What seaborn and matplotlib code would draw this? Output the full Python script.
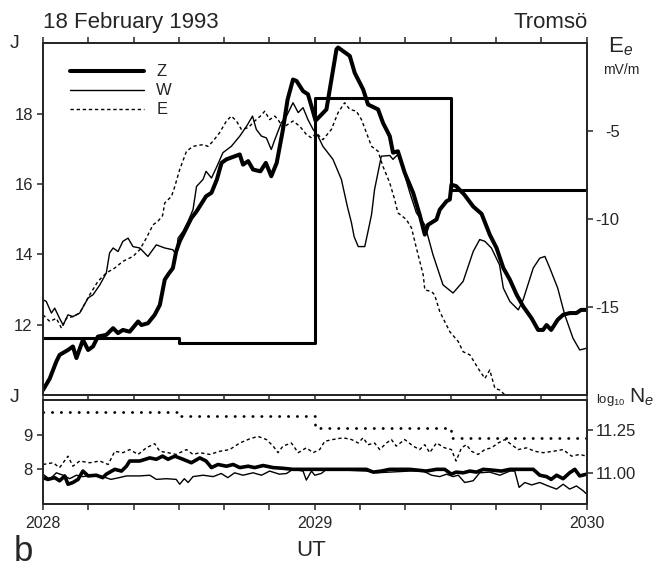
import numpy as np
import pandas as pd
import matplotlib
matplotlib.use("Agg")
import matplotlib.pyplot as plt
import seaborn as sns
from matplotlib.ticker import FixedLocator, FixedFormatter

# ---------------- data ----------------
# top panel: equivalent currents J (left axis) vs UT (20:28 - 20:30)
z_top_x = [2028.000, 2028.025, 2028.049, 2028.061, 2028.092, 2028.110, 2028.123, 2028.147, 2028.166, 2028.184,
           2028.202, 2028.233, 2028.258, 2028.276, 2028.294, 2028.319, 2028.350, 2028.362, 2028.386, 2028.411,
           2028.430, 2028.448, 2028.460, 2028.478, 2028.490, 2028.503, 2028.528, 2028.546, 2028.565, 2028.600,
           2028.620, 2028.640, 2028.657, 2028.675, 2028.724, 2028.736, 2028.755, 2028.773, 2028.800, 2028.820,
           2028.840, 2028.860, 2028.883, 2028.900, 2028.920, 2028.933, 2028.957, 2028.975, 2028.988, 2029.003,
           2029.043, 2029.080, 2029.086, 2029.129, 2029.147, 2029.178, 2029.196, 2029.233, 2029.251, 2029.276,
           2029.288, 2029.306, 2029.331, 2029.362, 2029.386, 2029.405, 2029.417, 2029.448, 2029.460, 2029.485,
           2029.497, 2029.503, 2029.520, 2029.550, 2029.583, 2029.614, 2029.644, 2029.669, 2029.694, 2029.718,
           2029.743, 2029.767, 2029.798, 2029.822, 2029.840, 2029.853, 2029.870, 2029.894, 2029.914, 2029.938,
           2029.963, 2029.980, 2030.000]
z_top_j = [10.14, 10.47, 10.95, 11.14, 11.28, 11.38, 11.05, 11.57, 11.28, 11.38,
           11.66, 11.71, 11.90, 11.76, 11.85, 11.80, 12.09, 11.99, 12.04, 12.28,
           12.56, 13.28, 13.42, 13.61, 14.08, 14.37, 14.75, 15.03, 15.22, 15.65,
           15.75, 16.13, 16.60, 16.70, 16.84, 16.55, 16.65, 16.41, 16.36, 16.60,
           16.22, 16.60, 17.55, 18.40, 18.97, 18.93, 18.64, 18.55, 18.21, 17.80,
           18.12, 19.83, 19.88, 19.64, 19.16, 18.69, 18.26, 18.12, 17.74, 17.36,
           16.89, 16.93, 16.32, 15.75, 15.13, 14.56, 14.84, 14.99, 15.27, 15.51,
           15.56, 15.98, 15.94, 15.70, 15.36, 15.15, 14.56, 14.18, 13.61, 13.28,
           12.85, 12.52, 12.18, 11.85, 11.85, 11.99, 11.85, 12.14, 12.28, 12.33,
           12.33, 12.42, 12.42]

w_top_x = [2028.000, 2028.012, 2028.031, 2028.043, 2028.061, 2028.074, 2028.092, 2028.110, 2028.135, 2028.166,
           2028.184, 2028.209, 2028.233, 2028.245, 2028.258, 2028.276, 2028.294, 2028.313, 2028.331, 2028.356,
           2028.386, 2028.417, 2028.448, 2028.478, 2028.490, 2028.497, 2028.515, 2028.534, 2028.552, 2028.565,
           2028.589, 2028.600, 2028.620, 2028.640, 2028.662, 2028.693, 2028.724, 2028.749, 2028.771, 2028.785,
           2028.804, 2028.822, 2028.840, 2028.853, 2028.877, 2028.896, 2028.920, 2028.939, 2028.957, 2028.975,
           2028.994, 2029.012, 2029.030, 2029.067, 2029.098, 2029.120, 2029.135, 2029.145, 2029.160, 2029.184,
           2029.196, 2029.209, 2029.220, 2029.245, 2029.276, 2029.288, 2029.306, 2029.325, 2029.350, 2029.374,
           2029.405, 2029.435, 2029.472, 2029.509, 2029.546, 2029.583, 2029.607, 2029.626, 2029.650, 2029.680,
           2029.694, 2029.718, 2029.749, 2029.767, 2029.804, 2029.828, 2029.847, 2029.865, 2029.894, 2029.920,
           2029.950, 2029.975, 2030.000]
w_top_j = [12.71, 12.66, 12.33, 12.47, 12.18, 11.99, 12.28, 12.23, 12.33, 12.76,
           12.85, 13.13, 13.47, 14.04, 14.18, 14.08, 14.37, 14.46, 14.22, 14.18,
           13.94, 14.27, 14.18, 14.13, 13.99, 14.46, 14.65, 14.94, 15.27, 15.93,
           16.13, 16.36, 16.17, 16.50, 16.89, 17.07, 17.36, 17.64, 17.93, 17.55,
           17.36, 17.31, 16.98, 17.26, 17.74, 17.93, 18.31, 18.03, 18.17, 17.83,
           17.55, 17.36, 17.07, 16.70, 16.13, 15.36, 14.90, 14.50, 14.22, 14.22,
           14.65, 15.13, 15.84, 16.79, 16.81, 16.70, 16.84, 16.41, 15.75, 15.18,
           14.84, 13.99, 13.13, 12.90, 13.23, 14.08, 14.42, 14.37, 14.18, 13.70,
           13.04, 12.66, 12.42, 12.71, 13.61, 13.89, 13.94, 13.61, 13.04, 12.28,
           11.62, 11.28, 11.33]

e_top_x = [2028.000, 2028.025, 2028.049, 2028.068, 2028.086, 2028.110, 2028.135, 2028.172, 2028.202, 2028.233,
           2028.264, 2028.294, 2028.331, 2028.356, 2028.380, 2028.405, 2028.423, 2028.440, 2028.448, 2028.473,
           2028.485, 2028.503, 2028.528, 2028.552, 2028.589, 2028.607, 2028.626, 2028.650, 2028.675, 2028.693,
           2028.712, 2028.730, 2028.755, 2028.779, 2028.800, 2028.816, 2028.834, 2028.853, 2028.865, 2028.883,
           2028.900, 2028.920, 2028.945, 2028.969, 2028.988, 2029.006, 2029.030, 2029.061, 2029.086, 2029.110,
           2029.129, 2029.153, 2029.172, 2029.209, 2029.233, 2029.251, 2029.276, 2029.294, 2029.306, 2029.337,
           2029.356, 2029.374, 2029.399, 2029.405, 2029.430, 2029.441, 2029.460, 2029.497, 2029.528, 2029.546,
           2029.571, 2029.601, 2029.626, 2029.644, 2029.663, 2029.681, 2029.700, 2029.720]
e_top_j = [12.28, 12.09, 12.18, 11.90, 12.18, 12.23, 12.33, 12.85, 13.23, 13.47,
           13.61, 13.80, 13.94, 14.13, 14.46, 14.84, 14.94, 15.10, 15.46, 15.65,
           15.93, 16.41, 16.93, 17.07, 17.12, 17.07, 17.22, 17.46, 17.79, 17.93,
           17.79, 17.55, 17.60, 17.79, 17.93, 18.07, 17.83, 17.93, 17.83, 17.60,
           17.69, 17.79, 17.64, 17.41, 17.31, 17.45, 17.26, 17.55, 18.03, 18.31,
           18.12, 18.07, 17.83, 17.07, 16.93, 16.50, 16.03, 15.56, 15.18, 14.99,
           14.75, 14.18, 13.42, 12.99, 12.94, 12.85, 12.37, 11.80, 11.52, 11.23,
           11.14, 10.76, 10.47, 10.71, 10.19, 10.14, 10.00, 9.80]

# EISCAT electric field E_e (mV/m), 30 s steps
ee_x = [2028.0, 2028.5, 2029.0, 2029.5, 2030.0]
ee_val = [-16.78, -17.06, -3.13, -8.34, -8.34]

# bottom panel: J (left axis) and log10 Ne (right axis)
e_bot_x = [2028.000, 2028.037, 2028.061, 2028.092, 2028.110, 2028.135, 2028.172, 2028.209, 2028.240, 2028.264,
           2028.294, 2028.319, 2028.350, 2028.380, 2028.411, 2028.430, 2028.460, 2028.490, 2028.528, 2028.552,
           2028.577, 2028.614, 2028.650, 2028.687, 2028.724, 2028.761, 2028.791, 2028.822, 2028.847, 2028.865,
           2028.883, 2028.914, 2028.939, 2028.969, 2028.994, 2029.018, 2029.037, 2029.067, 2029.104, 2029.135,
           2029.160, 2029.178, 2029.196, 2029.220, 2029.239, 2029.264, 2029.282, 2029.300, 2029.331, 2029.362,
           2029.386, 2029.405, 2029.423, 2029.448, 2029.478, 2029.503, 2029.520, 2029.540, 2029.558, 2029.577,
           2029.601, 2029.626, 2029.650, 2029.675, 2029.700, 2029.724, 2029.749, 2029.779, 2029.810, 2029.840,
           2029.877, 2029.914, 2029.945, 2029.975, 2030.000]
e_bot_j = [8.14, 8.19, 8.05, 8.38, 8.09, 8.24, 8.19, 8.24, 8.14, 8.52,
           8.48, 8.57, 8.43, 8.62, 8.74, 8.52, 8.48, 8.43, 8.57, 8.43,
           8.48, 8.43, 8.52, 8.57, 8.76, 8.88, 8.95, 8.86, 8.67, 8.48,
           8.67, 8.76, 8.48, 8.62, 8.48, 8.57, 8.81, 8.86, 8.91, 8.86,
           8.76, 8.91, 8.71, 8.76, 8.57, 8.76, 8.86, 8.67, 8.86, 8.67,
           8.57, 8.71, 8.48, 8.76, 8.62, 8.57, 8.24, 8.62, 8.71, 8.52,
           8.43, 8.57, 8.62, 8.76, 8.86, 8.71, 8.57, 8.62, 8.52, 8.48,
           8.52, 8.57, 8.38, 8.43, 8.38]

z_bot_x = [2028.000, 2028.018, 2028.043, 2028.061, 2028.080, 2028.092, 2028.110, 2028.129, 2028.147, 2028.166,
           2028.196, 2028.220, 2028.233, 2028.264, 2028.289, 2028.307, 2028.319, 2028.356, 2028.393, 2028.417,
           2028.440, 2028.460, 2028.485, 2028.515, 2028.546, 2028.577, 2028.600, 2028.620, 2028.644, 2028.675,
           2028.700, 2028.724, 2028.755, 2028.779, 2028.810, 2028.847, 2028.883, 2028.920, 2029.190, 2029.215,
           2029.245, 2029.276, 2029.350, 2029.410, 2029.448, 2029.478, 2029.503, 2029.520, 2029.546, 2029.571,
           2029.595, 2029.620, 2029.650, 2029.687, 2029.718, 2029.804, 2029.828, 2029.853, 2029.870, 2029.890,
           2029.914, 2029.938, 2029.957, 2029.975, 2030.000]
z_bot_j = [7.76, 7.71, 7.76, 7.67, 7.81, 7.57, 7.62, 7.71, 7.95, 7.81,
           7.83, 7.76, 7.86, 8.00, 7.95, 8.09, 8.24, 8.24, 8.33, 8.29,
           8.38, 8.29, 8.38, 8.29, 8.19, 8.33, 8.24, 8.05, 8.14, 8.09,
           8.14, 8.05, 8.09, 8.05, 8.11, 8.05, 8.03, 8.00, 8.00, 7.92,
           7.95, 8.00, 8.00, 7.95, 8.00, 8.00, 7.86, 7.92, 7.90, 7.95,
           7.92, 8.00, 7.98, 7.95, 8.00, 8.00, 7.83, 7.79, 7.71, 7.83,
           7.73, 7.90, 8.00, 7.81, 7.86]

w_bot_x = [2028.000, 2028.025, 2028.049, 2028.074, 2028.098, 2028.123, 2028.147, 2028.184, 2028.220, 2028.250,
           2028.280, 2028.307, 2028.356, 2028.393, 2028.417, 2028.454, 2028.490, 2028.503, 2028.520, 2028.534,
           2028.552, 2028.589, 2028.626, 2028.656, 2028.680, 2028.705, 2028.736, 2028.773, 2028.804, 2028.834,
           2028.870, 2028.896, 2028.920, 2028.957, 2028.969, 2028.988, 2029.000, 2029.024, 2029.043, 2029.190,
           2029.227, 2029.350, 2029.399, 2029.430, 2029.460, 2029.485, 2029.509, 2029.528, 2029.552, 2029.583,
           2029.607, 2029.644, 2029.681, 2029.718, 2029.736, 2029.752, 2029.773, 2029.798, 2029.828, 2029.859,
           2029.890, 2029.914, 2029.938, 2029.963, 2029.988, 2030.000]
w_bot_j = [7.86, 7.71, 7.90, 7.83, 7.73, 7.83, 7.79, 7.83, 7.79, 7.71,
           7.76, 7.81, 7.81, 7.83, 7.71, 7.73, 7.71, 7.57, 7.73, 7.62,
           7.79, 7.83, 7.79, 7.88, 7.76, 7.90, 7.83, 7.90, 7.83, 7.95,
           7.86, 7.88, 8.00, 7.95, 7.69, 7.95, 7.83, 7.88, 8.00, 7.95,
           7.90, 7.95, 7.95, 7.83, 7.79, 7.86, 7.79, 7.83, 7.62, 7.67,
           7.90, 7.92, 7.83, 7.95, 7.95, 7.48, 7.62, 7.55, 7.62, 7.52,
           7.43, 7.57, 7.43, 7.52, 7.38, 7.29]

# EISCAT log10 Ne, 30 s steps
ne_x = [2028.0, 2028.5, 2029.0, 2029.5, 2030.0]
ne_val = [11.361, 11.336, 11.264, 11.205, 11.205]

xtick_pos = [2028 + k / 6 for k in range(13)]
xtick_lab = ["2028", "", "", "", "", "", "2029", "", "", "", "", "", "2030"]
top_left_ticks = [12, 14, 16, 18]
top_right_ticks = [-15, -10, -5]
bot_left_ticks = [8, 9]
bot_right_ticks = [11.00, 11.25]
bot_right_labels = ["11.00", "11.25"]

# ---------------- style ----------------
sns.set_style("ticks")
plt.rcParams["font.family"] = ["Liberation Sans", "DejaVu Sans"]
plt.rcParams["mathtext.fontset"] = "custom"
plt.rcParams["mathtext.rm"] = "Liberation Sans"
plt.rcParams["mathtext.it"] = "Liberation Sans:italic"
plt.rcParams["axes.unicode_minus"] = False
plt.rcParams["axes.linewidth"] = 1.3

W, H = 671, 567
fig = plt.figure(figsize=(W / 100, H / 100), dpi=100)


def fx(x):
    return x / W


def fy(y):
    return 1 - y / H


L, R = 43.0, 586.5
ax = fig.add_axes([fx(L), fy(395), (R - L) / W, (395 - 43.3) / H])
bx = fig.add_axes([fx(L), fy(504), (R - L) / W, (504 - 400) / H])

black = "black"
dash = (0, (2.4, 2.0))

# top panel curves
df_zt = pd.DataFrame({"UT": z_top_x, "J": z_top_j})
df_wt = pd.DataFrame({"UT": w_top_x, "J": w_top_j})
df_et = pd.DataFrame({"UT": e_top_x, "J": e_top_j})
sns.lineplot(data=df_zt, x="UT", y="J", ax=ax, color=black, lw=2.9, estimator=None, label="Z")
sns.lineplot(data=df_wt, x="UT", y="J", ax=ax, color=black, lw=1.0, estimator=None, label="W")
sns.lineplot(data=df_et, x="UT", y="J", ax=ax, color=black, lw=1.0, linestyle=dash, estimator=None, label="E")

ax.set_xlim(2028, 2030)
ax.set_ylim(10, 20)
ax.set_xlabel("")
ax.set_ylabel("")
ax.xaxis.set_major_locator(FixedLocator(xtick_pos))
ax.tick_params(axis="x", which="both", top=True, bottom=True, direction="out", length=4.0,
               width=1.1, labelbottom=False, labeltop=False)
ax.set_yticks(top_left_ticks)
ax.set_yticklabels([str(v) for v in top_left_ticks])
ax.tick_params(axis="y", direction="out", length=4.3, width=1.1, pad=3, labelsize=12)

leg = ax.legend(loc="upper left", bbox_to_anchor=(0.0497, 0.940), frameon=False, fontsize=12,
                handlelength=4.45, handletextpad=0.72, labelspacing=0.24, borderpad=0, borderaxespad=0)

axr = ax.twinx()
df_ee = pd.DataFrame({"UT": ee_x, "E": ee_val})
sns.lineplot(data=df_ee, x="UT", y="E", ax=axr, color=black, lw=2.2, drawstyle="steps-post",
             estimator=None, legend=False)
axr.set_ylim(-20, 0)
axr.set_xlim(2028, 2030)
axr.set_ylabel("")
axr.set_yticks(top_right_ticks)
axr.set_yticklabels([str(v) for v in top_right_ticks])
axr.tick_params(axis="y", direction="out", length=4.3, width=1.1, pad=19.5, labelsize=12)
for t in axr.get_yticklabels():
    t.set_horizontalalignment("right")

# bottom panel
df_zb = pd.DataFrame({"UT": z_bot_x, "J": z_bot_j})
df_wb = pd.DataFrame({"UT": w_bot_x, "J": w_bot_j})
df_eb = pd.DataFrame({"UT": e_bot_x, "J": e_bot_j})
sns.lineplot(data=df_eb, x="UT", y="J", ax=bx, color=black, lw=1.0, linestyle=dash, estimator=None, legend=False)
sns.lineplot(data=df_wb, x="UT", y="J", ax=bx, color=black, lw=1.0, estimator=None, legend=False)
sns.lineplot(data=df_zb, x="UT", y="J", ax=bx, color=black, lw=2.6, estimator=None, legend=False)
bx.set_xlim(2028, 2030)
bx.set_ylim(7, 10)
bx.set_xlabel("")
bx.set_ylabel("")
bx.xaxis.set_major_locator(FixedLocator(xtick_pos))
bx.xaxis.set_major_formatter(FixedFormatter(xtick_lab))
bx.tick_params(axis="x", top=False, bottom=True, direction="out", length=4.3, width=1.1,
               pad=4.5, labelsize=11.5)
bx.set_yticks(bot_left_ticks)
bx.set_yticklabels([str(v) for v in bot_left_ticks])
bx.tick_params(axis="y", direction="out", length=4.3, width=1.1, pad=3, labelsize=12)

bxr = bx.twinx()
df_ne = pd.DataFrame({"UT": ne_x, "Ne": ne_val})
sns.lineplot(data=df_ne, x="UT", y="Ne", ax=bxr, color=black, lw=2.0, drawstyle="steps-post",
             linestyle=(0, (0.1, 3.1)), dash_capstyle="round", estimator=None, legend=False)
bxr.set_ylim(10.814, 11.43)
bxr.set_xlim(2028, 2030)
bxr.set_ylabel("")
bxr.set_yticks(bot_right_ticks)
bxr.set_yticklabels(bot_right_labels)
bxr.tick_params(axis="y", direction="out", length=4.3, width=1.1, pad=2.5, labelsize=12)

# ---------------- annotations ----------------
fig.text(fx(43), fy(28), "18 February 1993", ha="left", va="baseline", fontsize=16)
fig.text(fx(588), fy(28), "Tromsö", ha="right", va="baseline", fontsize=16)
fig.text(fx(15), fy(43), "J", ha="center", va="center", fontsize=14)
fig.text(fx(608), fy(47), "E$_e$", ha="left", va="center", fontsize=16)
fig.text(fx(621), fy(70), "mV/m", ha="center", va="center", fontsize=10)
fig.text(fx(15), fy(398), "J", ha="center", va="center", fontsize=14)
fig.text(fx(596), fy(400), "log$_{10}$", ha="left", va="center", fontsize=9.5)
fig.text(fx(629), fy(397), "N$_e$", ha="left", va="center", fontsize=15)
fig.text(fx(311), fy(550), "UT", ha="center", va="center", fontsize=16)
fig.text(fx(14), fy(561), "b", ha="left", va="baseline", fontsize=25)

fig.savefig("out.png", dpi=100)
